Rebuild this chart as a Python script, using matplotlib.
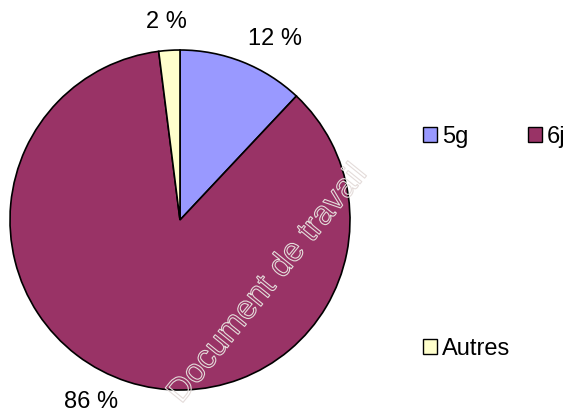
import matplotlib
matplotlib.use("Agg")
import matplotlib.pyplot as plt
import matplotlib.patheffects as pe
from matplotlib.patches import Patch

categories = ["5g", "6j", "Autres"]
values = [12, 86, 2]
labels = ["12 %", "86 %", "2 %"]
colors = ["#9999FF", "#993366", "#FFFFCC"]

plt.rcParams['font.family'] = ['Liberation Sans', 'DejaVu Sans']
W, H = 571, 413
fig = plt.figure(figsize=(W / 100, H / 100), dpi=100)

cx, cy, r = 180, 220, 170
ax = fig.add_axes([(cx - r) / W, (H - cy - r) / H, 2 * r / W, 2 * r / H])
wedges, texts = ax.pie(values, colors=colors, labels=labels, startangle=90,
                       counterclock=False, labeldistance=1.2,
                       wedgeprops=dict(edgecolor="black", linewidth=1.2),
                       textprops=dict(fontsize=17, color="black"))
ax.set_xlim(-1, 1)
ax.set_ylim(-1, 1)
ax.set_aspect("equal")
ax.axis("off")
for w in wedges:
    w.set_clip_on(False)

# label placement (pixel offsets from pie centre, as in the reference layout)
label_px = [(95, -181), (-89, 182), (-14, -198)]
for t, (dx, dy) in zip(texts, label_px):
    t.set_position((dx / r, -dy / r))
    t.set_ha("center")
    t.set_va("center")
    t.set_clip_on(False)

legend_px = [(423, 126), (528, 126), (423, 338)]
for c, col, (lx, ly) in zip(categories, colors, legend_px):
    leg = fig.legend(handles=[Patch(facecolor=col, edgecolor="black", label=c)],
                     loc="upper left", bbox_to_anchor=(lx / W, 1 - ly / H),
                     frameon=False, fontsize=17, handlelength=0.6,
                     handleheight=0.6, handletextpad=0.2,
                     borderpad=0, borderaxespad=0)

fig.text(268 / W, 1 - 284 / H, "Document de travail", fontsize=24,
         rotation=51, ha="center", va="center", color="none",
         path_effects=[pe.Stroke(linewidth=0.8, foreground="#E4DCDA")])

fig.savefig("out.png", dpi=100)
